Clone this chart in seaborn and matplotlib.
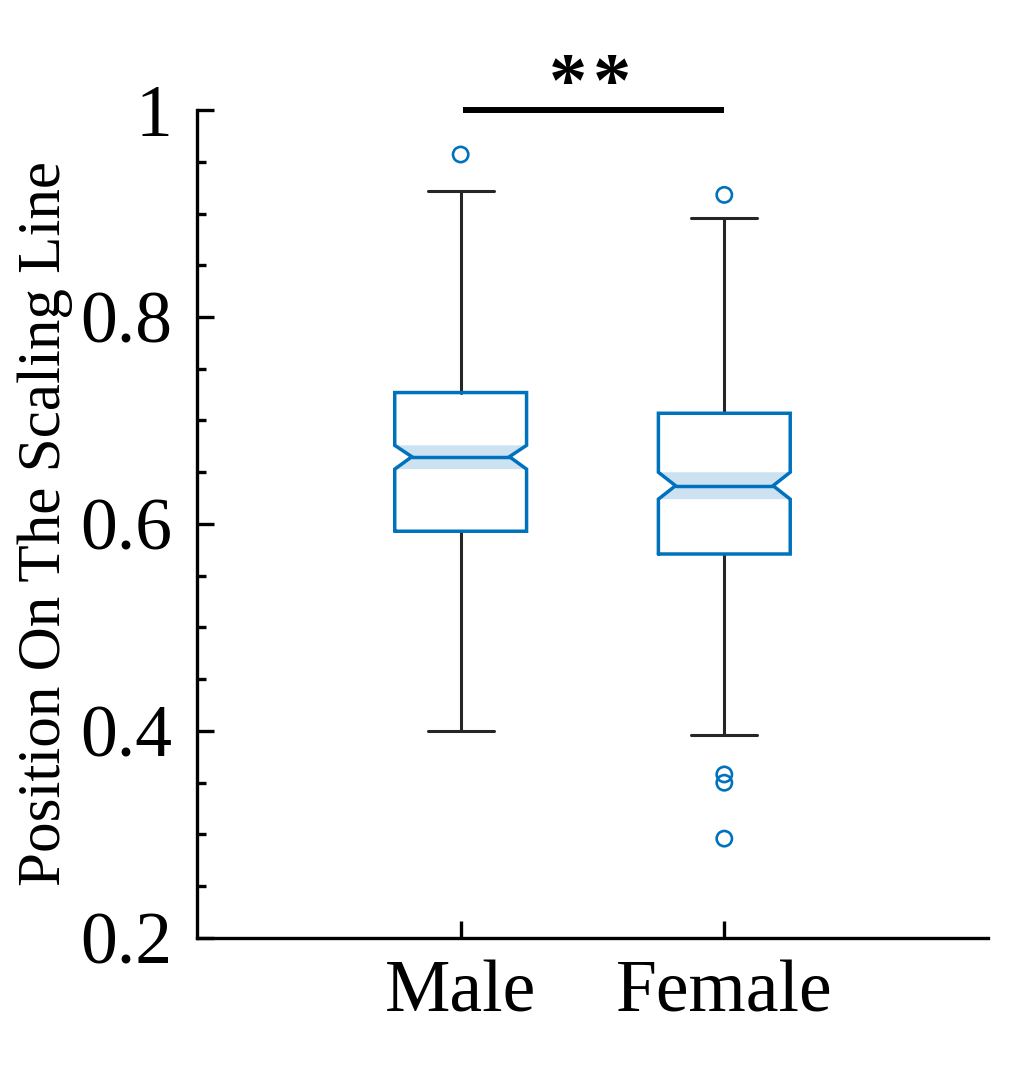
import numpy as np
import pandas as pd
import matplotlib
matplotlib.use("Agg")
import matplotlib.pyplot as plt
import seaborn as sns
from matplotlib.ticker import MultipleLocator

# --- values ---
groups = ["Male", "Female"]
q1 = [0.593, 0.571]
median = [0.665, 0.637]
q3 = [0.727, 0.707]
ci_low = [0.653, 0.624]
ci_high = [0.676, 0.650]
whisker_low = [0.400, 0.396]
whisker_high = [0.922, 0.896]
outlier_group = ["Male", "Female", "Female", "Female", "Female"]
outlier_value = [0.957, 0.918, 0.358, 0.350, 0.296]
y_ticks = [0.2, 0.4, 0.6, 0.8, 1.0]
y_tick_labels = ["0.2", "0.4", "0.6", "0.8", "1"]
y_label = "Position On The Scaling Line"
sig_text = "**"
# ---------------------------------------

BLUE = "#0072BD"
DARK = "#262626"

sns.set_theme(style="ticks")
plt.rcParams["font.family"] = ["Liberation Serif", "DejaVu Serif"]

fig = plt.figure(figsize=(10.33, 10.66), dpi=100)
ax = fig.add_axes([0.1907, 0.1201, 0.7657, 0.7767])

half = 0.25
notch_in = 0.065
cap_half = 0.125

for i, g in enumerate(groups):
    l, r = i - half, i + half
    li, ri = l + notch_in, r - notch_in
    # whiskers and caps
    ax.plot([i, i], [q3[i], whisker_high[i]], color=DARK, lw=2.2, zorder=1)
    ax.plot([i, i], [whisker_low[i], q1[i]], color=DARK, lw=2.2, zorder=1)
    ax.plot([i - cap_half, i + cap_half], [whisker_high[i]] * 2, color=DARK, lw=2.2, zorder=1)
    ax.plot([i - cap_half, i + cap_half], [whisker_low[i]] * 2, color=DARK, lw=2.2, zorder=1)
    # shaded notch band
    ax.fill([l, r, ri, r, l, li], [ci_high[i], ci_high[i], median[i], ci_low[i], ci_low[i], median[i]],
            color=BLUE, alpha=0.2, lw=0, zorder=2)
    # notched box outline
    xs = [l, r, r, ri, r, r, l, l, li, l, l]
    ys = [q1[i], q1[i], ci_low[i], median[i], ci_high[i], q3[i], q3[i], ci_high[i], median[i], ci_low[i], q1[i]]
    ax.plot(xs, ys, color=BLUE, lw=2.5, zorder=3, solid_joinstyle="miter")
    ax.plot([li, ri], [median[i]] * 2, color=BLUE, lw=2.5, zorder=3)

outliers = pd.DataFrame({"group": outlier_group, "value": outlier_value})
sns.stripplot(data=outliers, x="group", y="value", order=groups, jitter=False,
              marker="o", s=11, facecolor="none", edgecolor=BLUE, linewidth=1.9,
              color="none", ax=ax, zorder=4)

# significance bar, asterisks set a little apart as in the original
ax.plot([0.01, 1.0], [1.0, 1.0], color="black", lw=4.3, clip_on=False, solid_capstyle="butt")
n = len(sig_text)
for k, ch in enumerate(sig_text):
    xk = 0.49 + (k - (n - 1) / 2) * 0.168
    ax.text(xk, 0.989, ch, ha="center", va="bottom", fontsize=55,
            fontweight="bold", color="black")

ax.set_xlim(-1, 2)
ax.set_ylim(0.2, 1.0)
ax.set_xticks(range(len(groups)))
ax.set_xticklabels(groups)
ax.set_yticks(y_ticks)
ax.set_yticklabels(y_tick_labels)
ax.yaxis.set_minor_locator(MultipleLocator(0.05))
ax.set_xlabel("")
ax.set_ylabel(y_label, fontsize=44, labelpad=5, color="black")

for s in ["top", "right"]:
    ax.spines[s].set_visible(False)
for s in ["left", "bottom"]:
    ax.spines[s].set_linewidth(2.4)
    ax.spines[s].set_color("black")

ax.tick_params(axis="both", which="major", direction="in", length=12, width=2.4,
               labelsize=53, colors="black")
ax.tick_params(axis="y", which="major", pad=18)
ax.tick_params(axis="x", which="major", pad=16)
ax.tick_params(axis="y", which="minor", direction="in", length=6.5, width=2.4, color="black")
ax.tick_params(axis="x", which="minor", bottom=False)

fig.savefig("out.png", dpi=100)
